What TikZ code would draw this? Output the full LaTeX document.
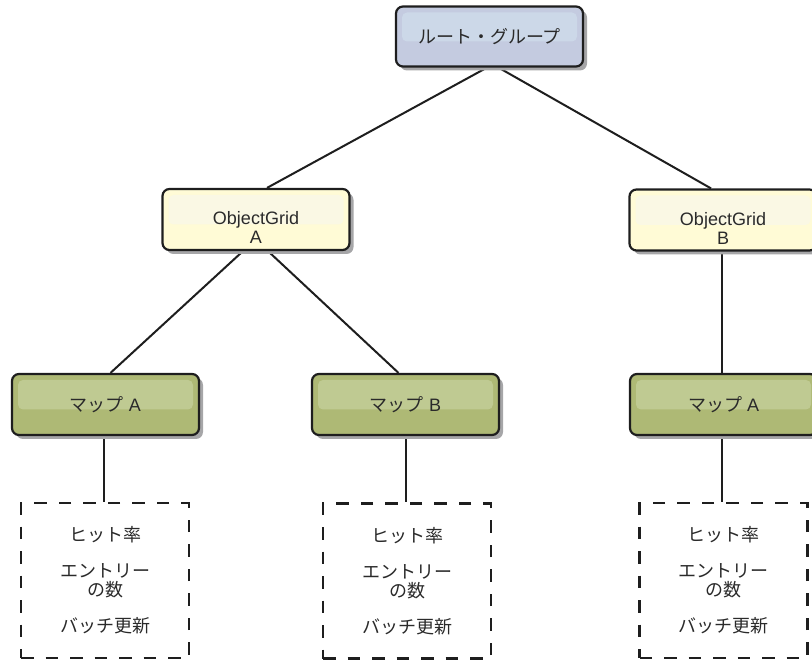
\documentclass[tikz,border=0pt]{standalone}
\usepackage{fontspec}
\setmainfont{Liberation Sans}
\newfontfamily\jp{Noto Sans CJK JP}
\usetikzlibrary{shadows,backgrounds}
\definecolor{lineC}{HTML}{1E1E1E}
\definecolor{txtC}{HTML}{2A2A2A}
\definecolor{shadowC}{HTML}{A6A6A8}
\definecolor{rootFill}{HTML}{C4CBE0}
\definecolor{rootBand}{HTML}{CCD8E8}
\definecolor{ogFill}{HTML}{FFFBD6}
\definecolor{ogBand}{HTML}{FAF8E4}
\definecolor{mapFill}{HTML}{AEB975}
\definecolor{mapBand}{HTML}{BFCA92}
\tikzset{
  banded/.style={path picture={\fill[#1,rounded corners=5pt]
      ([shift={(6pt,-6pt)}]path picture bounding box.north west) rectangle
      ([shift={(-6pt,-5pt)}]path picture bounding box.east);}},
  box/.style={draw=lineC, line width=2.2pt, rounded corners=7pt,
      minimum width=187pt, minimum height=61pt, inner sep=0pt,
      text=txtC, font=\fontsize{18pt}{19pt}\selectfont,
      drop shadow={shadow xshift=4pt, shadow yshift=-4pt, fill=shadowC, opacity=1}},
  rootbox/.style={box, fill=rootFill, banded=rootBand, minimum height=60pt},
  ogbox/.style={box, fill=ogFill, banded=ogBand},
  mapbox/.style={box, fill=mapFill, banded=mapBand},
  ogtext/.style={align=center, inner sep=0pt, text=txtC, font=\fontsize{18pt}{19pt}\selectfont},
  statbox/.style={draw=lineC, line width=2.4pt, dash pattern=on 12.5pt off 12pt,
      minimum width=168pt, minimum height=155pt, inner sep=0pt, align=center,
      text=txtC, font=\jp\fontsize{18pt}{19pt}\selectfont},
  conn/.style={draw=lineC, line width=2pt},
}
\begin{document}
\begin{tikzpicture}[x=1pt,y=-1pt]
\useasboundingbox (0,0) rectangle (812,660);
\clip (0,0) rectangle (812,660);

\node[rootbox] (root) at (489.5,36.5) {{\jp ルート・グループ}};

\node[ogbox] (gA) at (256,219.5) {};
\node[ogtext] (gAt) at ([yshift=-8pt]gA.center) {ObjectGrid\\A};
\node[ogbox] (gB) at (723,220) {};
\node[ogtext] (gBt) at ([yshift=-8pt]gB.center) {ObjectGrid\\B};

\node[mapbox] (mA) at (105.5,404.5) {{\jp マップ} A};
\node[mapbox] (mB) at (405.5,404.5) {{\jp マップ} B};
\node[mapbox] (mC) at (723.5,404.5) {{\jp マップ} A};

\node[statbox] (sA) at (105,580.5) {ヒット率\\[17pt]エントリー\\の数\\[17pt]バッチ更新};
\node[statbox] (sB) at (407,581) {ヒット率\\[17pt]エントリー\\の数\\[17pt]バッチ更新};
\node[statbox] (sC) at (723.5,580.5) {ヒット率\\[17pt]エントリー\\の数\\[17pt]バッチ更新};

\begin{pgfonlayer}{background}
\draw[conn] ([xshift=-2.5pt]root.south) -- ([xshift=11pt]gA.north);
\draw[conn] ([xshift=9pt]root.south) -- ([xshift=-12pt]gB.north);
\draw[conn] ([xshift=-13pt]gA.south) -- ([xshift=5pt]mA.north);
\draw[conn] ([xshift=12pt]gA.south) -- ([xshift=-7pt]mB.north);
\draw[conn] ([xshift=-1pt]gB.south) -- ([xshift=-1.5pt]mC.north);
\draw[conn] ([xshift=-2pt]mA.south) -- ([xshift=-2pt]mA.south |- sA.north);
\draw[conn] (mB.south) -- (mB.south |- sB.north);
\draw[conn] ([xshift=-1.5pt]mC.south) -- ([xshift=-1.5pt]mC.south |- sC.north);
\end{pgfonlayer}
\end{tikzpicture}
\end{document}
